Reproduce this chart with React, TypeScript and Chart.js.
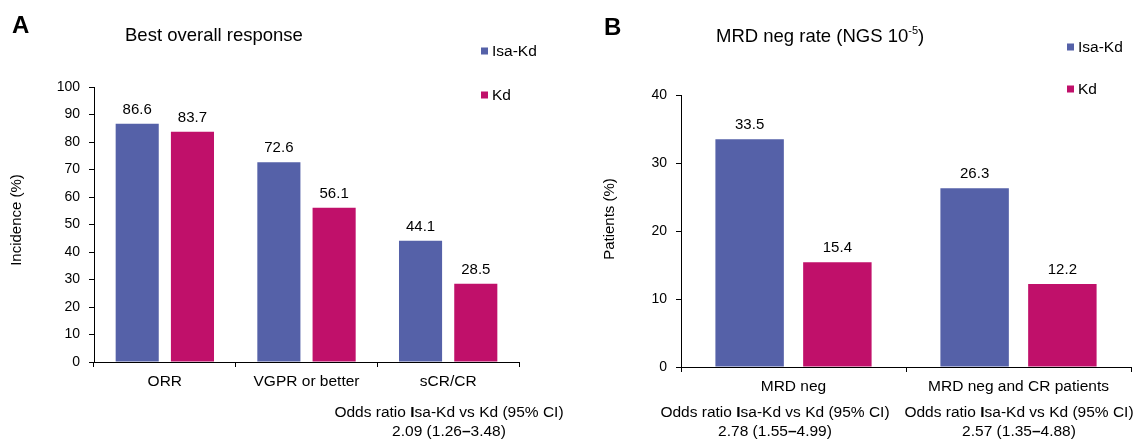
import React, { useEffect, useRef } from "react";
import { Chart, registerables } from "chart.js";

Chart.register(...registerables);

const seriesNames = ["Isa-Kd", "Kd"];
const categoriesA = ["ORR", "VGPR or better", "sCR/CR"];
const isaKdA = [86.6, 72.6, 44.1];
const kdA = [83.7, 56.1, 28.5];
const yMaxA = 100;
const categoriesB = ["MRD neg", "MRD neg and CR patients"];
const isaKdB = [33.5, 26.3];
const kdB = [15.4, 12.2];
const yMaxB = 40;
const yStep = 10;
const oddsA = [["2.09", "1.26", "3.48"]];
const oddsB = [
  ["2.78", "1.55", "4.99"],
  ["2.57", "1.35", "4.88"],
];

const BLUE = "#5561a8";
const MAGENTA = "#c0106a";
const FAM = '"Liberation Sans", Arial, Helvetica, sans-serif';
const f = (size: number, bold = false) => `${bold ? "bold " : ""}${size}px ${FAM}`;

type Seg = [string, string];
function drawSegs(ctx: CanvasRenderingContext2D, segs: Seg[], cx: number, y: number, align: "center" | "left" = "center") {
  const widths = segs.map(([t, font]) => {
    ctx.font = font;
    return ctx.measureText(t).width;
  });
  const total = widths.reduce((a, b) => a + b, 0);
  let x = align === "center" ? cx - total / 2 : cx;
  ctx.textAlign = "left";
  segs.forEach(([t, font], i) => {
    ctx.font = font;
    ctx.fillText(t, x, y);
    x += widths[i];
  });
}

const panelText = {
  id: "panelText",
  afterDraw(chart: any, _args: any, opts: any) {
    const ctx: CanvasRenderingContext2D = chart.ctx;
    ctx.save();
    ctx.fillStyle = "#000";
    ctx.textBaseline = "alphabetic";
    // data labels
    chart.data.datasets.forEach((ds: any, i: number) => {
      const meta = chart.getDatasetMeta(i);
      meta.data.forEach((bar: any, j: number) => {
        ctx.font = f(15);
        ctx.textAlign = "center";
        ctx.fillText(ds.data[j].toFixed(1), bar.x, bar.y - 10);
      });
    });
    // panel letter
    ctx.font = f(24, true);
    ctx.textAlign = "left";
    ctx.fillText(opts.letter, opts.letterX, opts.letterY);
    // title
    drawSegs(ctx, [[opts.title, f(18.5)]], opts.titleX, opts.titleY, "left");
    if (opts.titleSup) {
      ctx.font = f(18.5);
      const w = ctx.measureText(opts.title).width;
      ctx.font = f(11);
      ctx.fillText(opts.titleSup, opts.titleX + w, opts.titleY - 8);
      const w2 = ctx.measureText(opts.titleSup).width;
      ctx.font = f(18.5);
      ctx.fillText(")", opts.titleX + w + w2, opts.titleY);
    }
    // legend
    chart.data.datasets.forEach((ds: any, i: number) => {
      const y = opts.legendY[i];
      ctx.fillStyle = ds.backgroundColor;
      ctx.fillRect(opts.legendX, y - 3.5, 7, 7);
      ctx.fillStyle = "#000";
      ctx.font = f(15.5);
      ctx.textAlign = "left";
      ctx.textBaseline = "middle";
      ctx.fillText(ds.label, opts.legendX + 11, y + 0.5);
      ctx.textBaseline = "alphabetic";
    });
    // y title
    ctx.save();
    ctx.translate(opts.yTitleX, opts.yTitleY);
    ctx.rotate(-Math.PI / 2);
    ctx.font = f(15);
    ctx.textAlign = "center";
    ctx.textBaseline = "middle";
    ctx.fillText(opts.yTitle, 0, 0);
    ctx.restore();
    // odds ratios
    ctx.textBaseline = "alphabetic";
    opts.odds.forEach((o: string[], k: number) => {
      const cx = opts.oddsX[k];
      drawSegs(
        ctx,
        [
          ["Odds ratio ", f(15.5)],
          ["I", f(15.5, true)],
          [`${seriesNames[0].slice(1)} vs ${seriesNames[1]} (95% CI)`, f(15.5)],
        ],
        cx,
        416.5
      );
      drawSegs(
        ctx,
        [
          [`${o[0]} (${o[1]}`, f(15.5)],
          ["\u2013", f(15.5, true)],
          [`${o[2]})`, f(15.5)],
        ],
        cx,
        436
      );
    });
    ctx.restore();
  },
};

function makeConfig(
  labels: string[],
  a: number[],
  b: number[],
  yMax: number,
  yWidth: number,
  padding: { left: number; right: number; top: number; bottom: number },
  text: any
): any {
  const axisCommon = {
    grid: {
      display: true,
      drawOnChartArea: false,
      drawTicks: true,
      tickLength: 5,
      color: "#000",
      lineWidth: 1,
    },
    border: { display: true, color: "#000", width: 1 },
  };
  return {
    type: "bar",
    data: {
      labels,
      datasets: [
        { label: seriesNames[0], data: a, backgroundColor: BLUE, categoryPercentage: 0.78, barPercentage: 0.78 },
        { label: seriesNames[1], data: b, backgroundColor: MAGENTA, categoryPercentage: 0.78, barPercentage: 0.78 },
      ],
    },
    plugins: [panelText],
    options: {
      responsive: false,
      animation: false,
      layout: { padding },
      plugins: {
        legend: { display: false },
        tooltip: { enabled: false },
        panelText: text,
      },
      scales: {
        x: {
          ...axisCommon,
          ticks: { color: "#000", font: { family: FAM, size: 15.5 }, padding: 5, maxRotation: 0, autoSkip: false },
          afterFit: (s: any) => {
            s.height = 30;
          },
        },
        y: {
          ...axisCommon,
          min: 0,
          max: yMax,
          ticks: { stepSize: yStep, color: "#000", font: { family: FAM, size: 14 }, padding: 9 },
          afterFit: (s: any) => {
            s.width = yWidth;
          },
        },
      },
    },
  };
}

export default function App() {
  const refA = useRef<HTMLCanvasElement>(null);
  const refB = useRef<HTMLCanvasElement>(null);
  useEffect(() => {
    document.body.style.margin = "0";
    const chartA = new Chart(
      refA.current!,
      makeConfig(categoriesA, isaKdA, kdA, yMaxA, 94, { left: 0, right: 101, top: 87, bottom: 49 }, {
        letter: "A",
        letterX: 12,
        letterY: 33,
        title: "Best overall response",
        titleX: 125,
        titleY: 41,
        legendX: 481,
        legendY: [51, 95],
        yTitle: "Incidence (%)",
        yTitleX: 17,
        yTitleY: 220,
        odds: oddsA,
        oddsX: [449],
      })
    );
    const chartB = new Chart(
      refB.current!,
      makeConfig(categoriesB, isaKdB, kdB, yMaxB, 121, { left: 0, right: 3, top: 95, bottom: 44 }, {
        letter: "B",
        letterX: 44,
        letterY: 35,
        title: "MRD neg rate (NGS 10",
        titleSup: "-5",
        titleX: 156,
        titleY: 42,
        legendX: 507,
        legendY: [47, 89],
        yTitle: "Patients (%)",
        yTitleX: 50,
        yTitleY: 219,
        odds: oddsB,
        oddsX: [215, 459],
      })
    );
    return () => {
      chartA.destroy();
      chartB.destroy();
    };
  }, []);
  return (
    <div style={{ position: "relative", width: 1134, height: 441, background: "#fff" }}>
      <canvas ref={refA} width={620} height={441} style={{ position: "absolute", left: 0, top: 0, display: "block" }} />
      <canvas ref={refB} width={574} height={441} style={{ position: "absolute", left: 560, top: 0, display: "block" }} />
    </div>
  );
}
